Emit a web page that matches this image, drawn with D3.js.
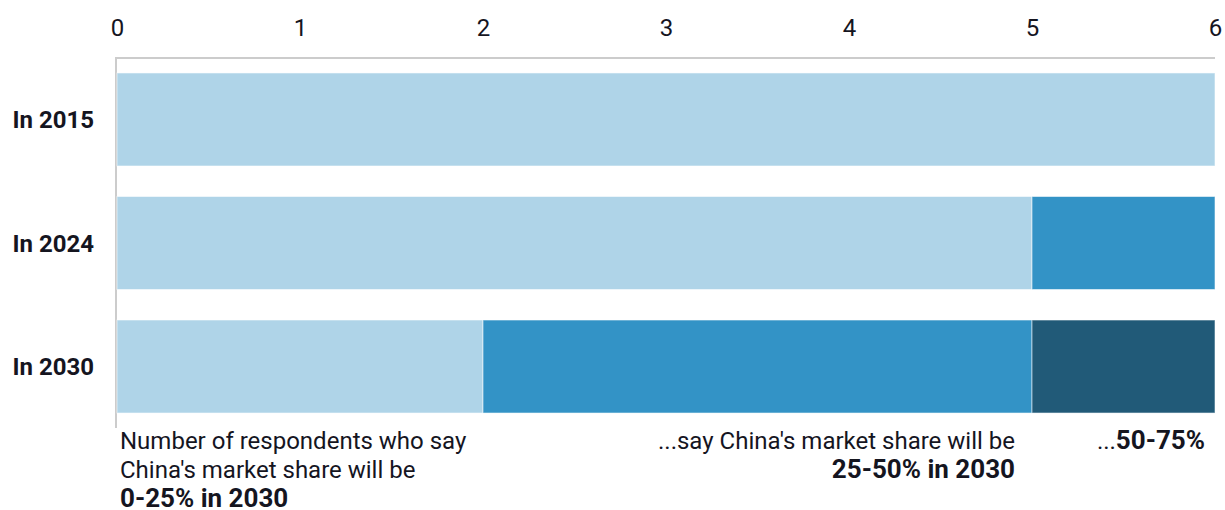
<!DOCTYPE html>
<html>
<head>
<meta charset="utf-8">
<script src="https://cdn.jsdelivr.net/npm/d3@7"></script>
<style>
  html, body { margin: 0; padding: 0; background: #fff; }
  svg { display: block; font-family: Roboto, "Noto Sans", sans-serif; }
</style>
</head>
<body>
<svg id="chart" width="1225" height="510"></svg>
<script>
// Survey answers: how many respondents put China's 2030 market share in each band
const categories = ["In 2015", "In 2024", "In 2030"];
const share0to25 = [6, 5, 2];
const share25to50 = [0, 1, 3];
const share50to75 = [0, 0, 1];
const seriesKeys = ["0-25%", "25-50%", "50-75%"];
const seriesColors = ["#afd4e8", "#3393c6", "#215a78"];
const tickValues = [0, 1, 2, 3, 4, 5, 6];

const rows = categories.map((c, i) => ({
  category: c,
  "0-25%": share0to25[i],
  "25-50%": share25to50[i],
  "50-75%": share50to75[i]
}));

const svg = d3.select("#chart");
const margin = { top: 58, left: 117, right: 10 };
const width = 1225;
const textColor = "#15151f";
const fontSize = 24;
const boldNoteSize = 26;

const x = d3.scaleLinear().domain([0, 6]).range([margin.left, width - margin.right]);
const y = d3.scaleBand().domain(categories)
  .range([60, 426])
  .paddingInner(0.247).paddingOuter(0.105);

const color = d3.scaleOrdinal().domain(seriesKeys).range(seriesColors);
const stacked = d3.stack().keys(seriesKeys)(rows);

// top axis with tick labels only
const xAxis = d3.axisTop(x).tickValues(tickValues).tickFormat(d3.format("d"))
  .tickSize(0).tickPadding(0);
svg.append("g")
  .attr("transform", `translate(0, 36)`)
  .call(xAxis)
  .call(g => g.select(".domain").remove())
  .call(g => g.selectAll("text")
    .attr("fill", textColor)
    .attr("font-size", fontSize)
    .attr("font-family", "Roboto, sans-serif"));

// frame lines: top rule and left rule
svg.append("line")
  .attr("x1", x(0) - 1).attr("x2", x(6))
  .attr("y1", margin.top).attr("y2", margin.top)
  .attr("stroke", "#cccccc").attr("stroke-width", 2);
svg.append("line")
  .attr("x1", x(0) - 1).attr("x2", x(0) - 1)
  .attr("y1", margin.top - 1).attr("y2", 428)
  .attr("stroke", "#cccccc").attr("stroke-width", 2);

// stacked bars
svg.append("g").selectAll("g")
  .data(stacked)
  .join("g")
  .attr("fill", d => color(d.key))
  .selectAll("rect")
  .data(d => d.filter(s => s[1] > s[0]).map(s => ({ s, cat: s.data.category })))
  .join("rect")
  .attr("x", d => x(d.s[0]))
  .attr("width", d => x(d.s[1]) - x(d.s[0]))
  .attr("y", d => y(d.cat))
  .attr("height", y.bandwidth())
  .attr("stroke", "#ffffff")
  .attr("stroke-opacity", 0.55)
  .attr("stroke-width", 1);

// category labels
svg.append("g").selectAll("text")
  .data(categories)
  .join("text")
  .attr("x", 94)
  .attr("y", d => y(d) + y.bandwidth() / 2)
  .attr("dy", "0.36em")
  .attr("text-anchor", "end")
  .attr("font-size", fontSize)
  .attr("font-weight", 700)
  .attr("fill", textColor)
  .text(d => d);

// series annotations under the 2030 bar
const notes = [
  { x: 120, anchor: "start", lines: [
    { t: "Number of respondents who say", b: false },
    { t: "China's market share will be", b: false },
    { t: "0-25% in 2030", b: true }] },
  { x: 1015, anchor: "end", lines: [
    { t: "...say China's market share will be", b: false },
    { t: "25-50% in 2030", b: true }] }
];
notes.forEach(n => {
  const t = svg.append("text")
    .attr("x", n.x).attr("y", 449)
    .attr("text-anchor", n.anchor)
    .attr("font-size", fontSize)
    .attr("fill", textColor);
  n.lines.forEach((l, i) => {
    t.append("tspan")
      .attr("x", n.x)
      .attr("dy", i === 0 ? 0 : 29)
      .attr("font-weight", l.b ? 700 : 400)
      .attr("font-size", l.b ? boldNoteSize : fontSize)
      .text(l.t);
  });
});
const last = svg.append("text")
  .attr("x", 1205).attr("y", 449)
  .attr("text-anchor", "end")
  .attr("font-size", fontSize)
  .attr("fill", textColor);
last.append("tspan").text("...");
last.append("tspan").attr("font-weight", 700).attr("font-size", boldNoteSize).text("50-75%");
</script>
</body>
</html>
